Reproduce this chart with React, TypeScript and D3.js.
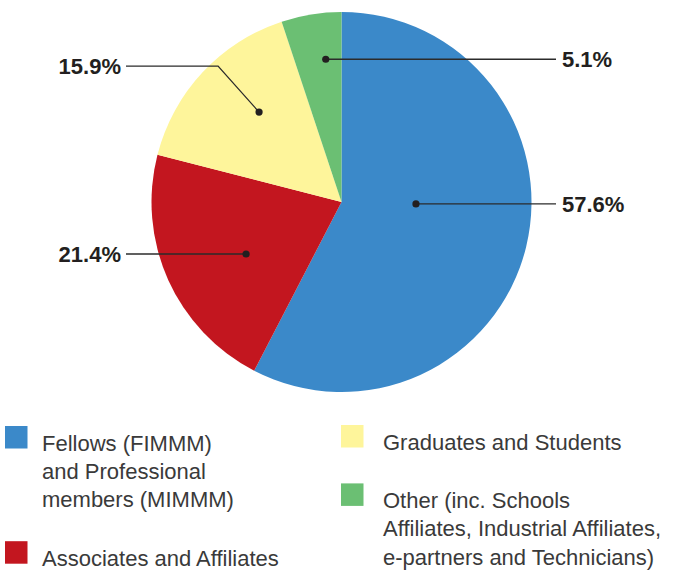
import React, { useRef, useEffect } from 'react';
import * as d3 from 'd3';

// membership breakdown, clockwise from 12 o'clock
const categories = ['Fellows', 'Associates', 'Graduates', 'Other'];
const values = [57.6, 21.4, 15.9, 5.1];
const valueLabels = ['57.6%', '21.4%', '15.9%', '5.1%'];
const colors = ['#3b89c9', '#c3161f', '#fef59b', '#6bbf73'];

// legend text, one entry per category (line breaks as in the print)
const legendLines = [
  ['Fellows (FIMMM)', 'and Professional', 'members (MIMMM)'],
  ['Associates and Affiliates'],
  ['Graduates and Students'],
  ['Other (inc. Schools', 'Affiliates, Industrial Affiliates,', 'e-partners and Technicians)'],
];
const legendColumn = [0, 0, 1, 1];

// where each leader dot sits inside its slice: fraction of the slice sweep, fraction of radius
const dotSweep = [0.441, 0.442, 0.578, 0.657];
const dotRadius = [0.392, 0.572, 0.642, 0.756];
const labelSide = ['right', 'left', 'left', 'right'];
// the graduates label bends up before running left
const elbow: ([number, number] | null)[] = [null, null, [-41, -46], null];

const App = () => {
  const svgRef = useRef<SVGSVGElement>(null);

  useEffect(() => {
    const width = 673;
    const height = 572;
    const svg = d3.select(svgRef.current);
    svg.selectAll('*').remove();
    svg.attr('width', width).attr('height', height);

    const cx = 341.5;
    const cy = 202;
    const radius = 190;
    const fontFamily = '"Liberation Sans", Arial, Helvetica, sans-serif';

    const data = categories.map((c, i) => ({ name: c, value: values[i], i }));
    const pie = d3.pie<any>().sort(null).value(d => d.value);
    const arcs = pie(data);
    const arc = d3.arc<any>().innerRadius(0).outerRadius(radius);

    const g = svg.append('g').attr('transform', `translate(${cx},${cy})`);

    g.selectAll('path.slice')
      .data(arcs)
      .enter().append('path')
      .attr('class', 'slice')
      .attr('d', arc)
      .attr('fill', d => colors[d.data.i]);

    // leader lines and labels
    const leftTextX = 121 - cx;
    const rightTextX = 562 - cx;
    const gapToText = 5;

    arcs.forEach(a => {
      const i = a.data.i;
      const ang = a.startAngle + (a.endAngle - a.startAngle) * dotSweep[i];
      const r = radius * dotRadius[i];
      const dx = r * Math.sin(ang);
      const dy = -r * Math.cos(ang);
      const right = labelSide[i] === 'right';
      const textX = right ? rightTextX : leftTextX;
      const lineEndX = right ? textX - gapToText - 1 : textX + gapToText;

      const pts: [number, number][] = [[dx, dy]];
      let ly = dy;
      if (elbow[i]) {
        const e = elbow[i]!;
        pts.push([dx + e[0], dy + e[1]]);
        ly = dy + e[1];
      }
      pts.push([lineEndX, ly]);

      g.append('path')
        .attr('d', d3.line()(pts))
        .attr('fill', 'none')
        .attr('stroke', '#2b2b2b')
        .attr('stroke-width', 1.3);

      g.append('circle')
        .attr('cx', dx)
        .attr('cy', dy)
        .attr('r', 3.6)
        .attr('fill', '#231f20');

      g.append('text')
        .attr('x', textX)
        .attr('y', ly)
        .attr('dy', '0.36em')
        .attr('text-anchor', right ? 'start' : 'end')
        .style('font-family', fontFamily)
        .style('font-weight', 'bold')
        .style('font-size', '22px')
        .style('fill', '#231f20')
        .text(valueLabels[i]);
    });

    // legend
    const swatchX = [5, 341];
    const textX = [42, 383];
    const colTop = [426, 425];
    const lineHeight = 28.4;
    const itemGap = 30;
    const sw = 22.5;
    const cursor = [colTop[0], colTop[1]];

    legendLines.forEach((lines, i) => {
      const col = legendColumn[i];
      const top = cursor[col];
      const lg = svg.append('g');
      lg.append('rect')
        .attr('x', swatchX[col])
        .attr('y', top)
        .attr('width', sw)
        .attr('height', sw)
        .attr('fill', colors[i]);
      const t = lg.append('text')
        .attr('x', textX[col])
        .attr('y', top + 24.5)
        .style('font-family', fontFamily)
        .style('font-size', '22px')
        .style('fill', '#3a3a3a');
      lines.forEach((line, k) => {
        t.append('tspan')
          .attr('x', textX[col])
          .attr('dy', k === 0 ? 0 : lineHeight)
          .text(line);
      });
      cursor[col] = top + lines.length * lineHeight + itemGap;
    });
  }, []);

  return (
    <div style={{ position: 'absolute', left: 0, top: 0, background: '#fff' }}>
      <svg ref={svgRef} style={{ display: 'block' }} />
    </div>
  );
};

export default App;
